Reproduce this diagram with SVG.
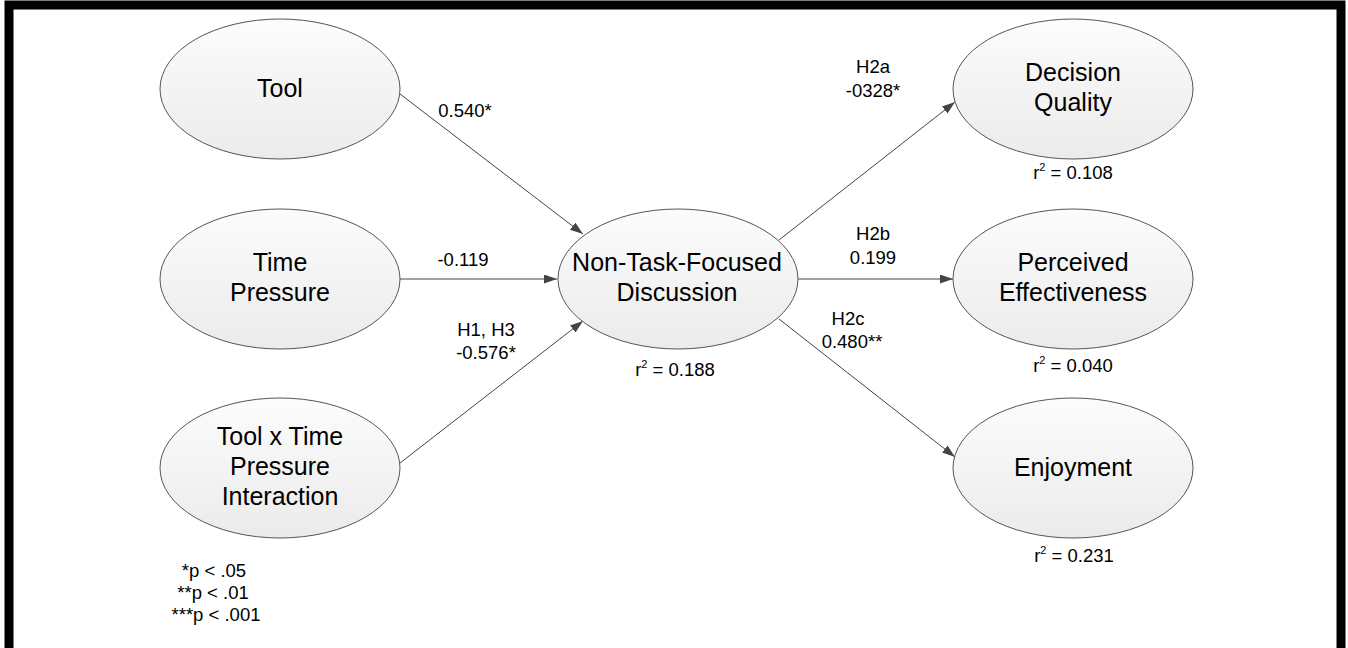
<svg xmlns="http://www.w3.org/2000/svg" width="1348" height="648" viewBox="0 0 1348 648">
<style>
.node ellipse{fill:url(#g);stroke:#555;stroke-width:1}
.nt{font-family:"Liberation Sans",Arial,sans-serif;font-size:25px;fill:#000;text-anchor:middle}
.lb{font-family:"Liberation Sans",Arial,sans-serif;font-size:18.5px;fill:#000;text-anchor:middle}
.cn line{stroke:#444;stroke-width:1;marker-end:url(#ah)}
</style>
<defs>
<linearGradient id="g" x1="0" y1="0" x2="0" y2="1">
<stop offset="0" stop-color="#fcfcfc"/>
<stop offset="1" stop-color="#ebebeb"/>
</linearGradient>
<marker id="ah" viewBox="0 0 13 9" refX="13" refY="4.5" markerWidth="13" markerHeight="9" markerUnits="userSpaceOnUse" orient="auto">
<path d="M0,0 L13,4.5 L0,9 Z" fill="#444"/>
</marker>
</defs>
<rect x="0" y="0" width="1348" height="648" fill="#fff"/>
<rect x="9" y="5" width="1332" height="700" fill="none" stroke="#000" stroke-width="9"/>

<g id="connectors" class="cn">
<line x1="400" y1="94" x2="583" y2="234"/>
<line x1="400" y1="279" x2="557" y2="279"/>
<line x1="400" y1="463" x2="583" y2="321"/>
<line x1="779" y1="240" x2="955" y2="102"/>
<line x1="798" y1="279" x2="953" y2="279"/>
<line x1="779" y1="319" x2="955" y2="457"/>
</g>

<g id="node-tool" class="node">
<ellipse cx="280" cy="89" rx="120" ry="70"/>
<text class="nt" x="280" y="97">Tool</text>
</g>
<g id="node-time-pressure" class="node">
<ellipse cx="280" cy="279" rx="120" ry="70"/>
<text class="nt" x="280" y="271">Time</text>
<text class="nt" x="280" y="301">Pressure</text>
</g>
<g id="node-interaction" class="node">
<ellipse cx="280" cy="468" rx="120" ry="70"/>
<text class="nt" x="280" y="445">Tool x Time</text>
<text class="nt" x="280" y="475">Pressure</text>
<text class="nt" x="280" y="505">Interaction</text>
</g>
<g id="node-ntfd" class="node">
<ellipse cx="678" cy="279" rx="120" ry="70"/>
<text class="nt" x="677" y="271">Non-Task-Focused</text>
<text class="nt" x="677" y="301">Discussion</text>
</g>
<g id="node-dq" class="node">
<ellipse cx="1073" cy="89" rx="120" ry="70"/>
<text class="nt" x="1073" y="81">Decision</text>
<text class="nt" x="1073" y="111">Quality</text>
</g>
<g id="node-pe" class="node">
<ellipse cx="1073" cy="279" rx="120" ry="70"/>
<text class="nt" x="1073" y="271">Perceived</text>
<text class="nt" x="1073" y="301">Effectiveness</text>
</g>
<g id="node-enjoy" class="node">
<ellipse cx="1073" cy="468" rx="120" ry="70"/>
<text class="nt" x="1073" y="476">Enjoyment</text>
</g>

<g id="labels">
<text class="lb" x="465" y="117">0.540*</text>
<text class="lb" x="463" y="266">-0.119</text>
<text class="lb" x="486" y="336">H1, H3</text>
<text class="lb" x="486" y="359">-0.576*</text>
<text class="lb" x="675" y="376">r<tspan font-size="11" dy="-8">2</tspan><tspan dy="8"> = 0.188</tspan></text>
<text class="lb" x="873" y="73">H2a</text>
<text class="lb" x="873" y="97">-0328*</text>
<text class="lb" x="873" y="240">H2b</text>
<text class="lb" x="873" y="264">0.199</text>
<text class="lb" x="848" y="325">H2c</text>
<text class="lb" x="852" y="348">0.480**</text>
<text class="lb" x="1073" y="179">r<tspan font-size="11" dy="-8">2</tspan><tspan dy="8"> = 0.108</tspan></text>
<text class="lb" x="1073" y="372">r<tspan font-size="11" dy="-8">2</tspan><tspan dy="8"> = 0.040</tspan></text>
<text class="lb" x="1074" y="562">r<tspan font-size="11" dy="-8">2</tspan><tspan dy="8"> = 0.231</tspan></text>
<text class="lb" x="214" y="577" font-size="17">*p &lt; .05</text>
<text class="lb" x="213" y="599" font-size="17">**p &lt; .01</text>
<text class="lb" x="216" y="621" font-size="17">***p &lt; .001</text>
</g>
</svg>
